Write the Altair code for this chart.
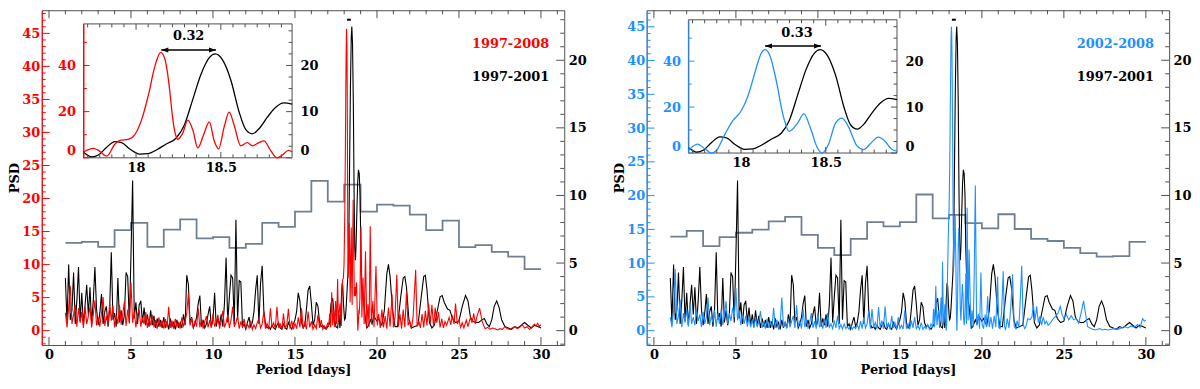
import altair as alt
import pandas as pd

FONT = "DejaVu Serif"
RED = "#ff0000"
BLUE = "#1e90ff"
HIST_COLOR = "#708090"
FRAME = "#505050"

# ---------------- data ----------------
GRID_START = 1.0
GRID_STEP = 0.1

# 1997-2001 periodogram (right-axis units), periods 1.0 .. 17.0
BLACK_GRID = [
    3.9, 0.6, 4.9, 0.8, 1.5, 4.3, 0.5, 2.2, 4.7, 0.7,
    2.8, 0.4, 1.9, 3.4, 1.2, 3.2, 0.5, 2.2, 4.7, 1.6,
    0.4, 1.3, 2.7, 0.5, 1.4, 1.8, 0.3, 1.6, 5.8, 0.8,
    1.3, 0.3, 3.9, 0.6, 1.5, 0.4, 1.2, 4.3, 4.0, 0.6,
    5.6, 11.1, 0.9, 2.1, 0.5, 1.9, 2.2, 0.6, 1.7, 0.4,
    1.2, 0.3, 1.5, 0.4, 1.1, 0.2, 0.9, 0.3, 0.8, 0.2,
    1.0, 0.2, 0.7, 0.1, 0.9, 0.3, 0.6, 0.1, 0.8, 0.2,
    0.6, 0.2, 1.2, 0.4, 4.1, 3.4, 0.6, 1.0, 0.2, 0.5,
    1.0, 2.0, 2.6, 0.3, 0.8, 0.2, 0.5, 1.2, 1.8, 0.3,
    0.8, 2.8, 0.3, 0.9, 0.4, 1.2, 0.3, 2.0, 5.4, 0.6,
    2.5, 4.1, 3.9, 0.5, 8.2, 0.8, 3.7, 3.6, 0.3, 0.5,
    0.1, 0.6, 1.0, 0.3, 0.6, 1.4, 3.0, 4.1, 0.5, 3.5,
    4.8, 1.5, 0.5, 0.2, 0.3, 0.1, 0.4, 0.2, 0.1, 0.4,
    0.6, 0.2, 0.1, 0.5, 0.2, 0.1, 0.6, 0.3, 0.1, 0.5,
    0.8, 1.4, 2.8, 2.2, 0.6, 0.2, 0.4, 1.6, 3.0, 3.3,
    2.0, 0.4, 0.8, 2.1, 1.8, 0.6, 0.3, 0.4, 0.2, 0.1,
    0.3,
]
BLACK_MID_X = [17.1, 17.2, 17.3, 17.4, 17.5, 17.6]
BLACK_MID_Y = [0.5, 2.0, 2.4, 1.0, 0.3, 0.2]
BLACK_INSET_X = [17.69, 17.739, 17.778, 17.827, 17.875, 17.915, 17.963, 18.022, 18.071,
                 18.12, 18.178, 18.237, 18.285, 18.334, 18.383, 18.432, 18.467, 18.51,
                 18.559, 18.608, 18.647, 18.686, 18.725, 18.774, 18.822, 18.871, 18.92]
BLACK_INSET_Y = [1.2, 0.2, 0.6, 2.3, 3.5, 3.3, 1.9, 0.8, 0.9,
                 1.7, 3.0, 4.3, 7.1, 12.6, 18.1, 21.7, 22.5, 21.2,
                 16.8, 9.9, 6.1, 5.2, 6.3, 8.8, 10.9, 11.9, 11.6]
BLACK_TAIL_X = [18.97, 19.02, 19.08, 19.15, 19.22, 19.3, 19.38, 19.45,
                19.6, 19.7, 19.8, 19.9, 20.0, 20.1, 20.2, 20.3,
                20.45, 20.6, 20.7, 20.8, 20.95, 21.1, 21.25,
                21.45, 21.6, 21.7, 21.8, 21.95, 22.1, 22.3, 22.5,
                22.7, 22.85, 22.95, 23.05, 23.2, 23.35, 23.5,
                23.7, 23.85, 23.98, 24.1, 24.3, 24.45, 24.6, 24.8,
                25.0, 25.2, 25.4, 25.55, 25.7, 25.85, 26.0,
                26.2, 26.4, 26.55, 26.7, 26.85, 27.0,
                27.15, 27.3, 27.45, 27.6, 27.8, 28.0,
                28.2, 28.4, 28.6, 28.8, 29.0, 29.2, 29.4, 29.6, 29.8, 30.0]
BLACK_TAIL_Y = [10.0, 6.0, 3.5, 2.4, 1.8, 0.8, 0.2, 0.3,
                0.8, 0.5, 1.1, 0.9, 0.7, 0.9, 0.6, 0.4,
                1.5, 4.2, 4.9, 4.0, 1.5, 0.3, 0.3,
                2.5, 3.9, 4.0, 3.2, 0.8, 0.2, 0.3, 0.4,
                2.5, 4.0, 4.1, 3.0, 0.6, 0.2, 0.4,
                1.6, 2.5, 2.6, 2.1, 1.6, 1.5, 0.9, 0.6,
                0.7, 1.8, 2.6, 2.2, 1.0, 0.7, 0.6,
                0.6, 0.8, 0.9, 0.5, 0.3, 0.8,
                1.8, 2.2, 1.7, 0.8, 0.3, 0.2,
                0.1, 0.3, 0.2, 0.4, 0.6, 0.4, 0.2, 0.4, 0.3, 0.2]

# 1997-2008 periodogram (left-axis units)
RED_GRID = [
    2.7, 0.5, 3.5, 6.8, 1.0, 2.5, 3.9, 0.6, 3.4, 1.2,
    2.8, 0.4, 3.6, 1.0, 2.2, 3.6, 0.5, 2.4, 4.6, 0.8,
    2.0, 0.6, 2.6, 5.1, 0.7, 2.2, 1.0, 4.1, 1.5, 3.8,
    0.5, 2.3, 1.0, 3.9, 0.9, 2.6, 4.4, 0.7, 3.2, 1.1,
    7.3, 1.2, 2.9, 0.5, 2.4, 3.2, 0.6, 2.0, 1.0, 2.8,
    0.4, 1.9, 0.8, 2.4, 0.5, 1.6, 0.3, 2.0, 0.6, 1.5,
    0.3, 1.8, 0.5, 3.6, 0.4, 1.5, 0.3, 1.8, 0.6, 1.2,
    0.3, 2.0, 0.7, 1.4, 2.6, 5.6, 0.8, 1.9, 0.4, 1.5,
    0.6, 3.4, 0.5, 1.8, 0.3, 1.4, 2.2, 0.5, 1.6, 0.4,
    2.5, 0.6, 1.3, 2.4, 0.3, 1.5, 3.0, 0.5, 1.2, 2.4,
    0.4, 1.6, 3.6, 0.6, 1.2, 2.2, 0.3, 1.4, 0.5, 1.8,
    0.3, 1.0, 0.4, 1.5, 0.2, 0.9, 0.3, 1.2, 1.8, 0.4,
    1.0, 2.9, 0.3, 1.1, 0.2, 3.4, 0.5, 1.2, 0.3, 3.6,
    0.4, 1.0, 0.2, 2.6, 0.4, 0.8, 3.3, 0.3, 1.5, 0.2,
    1.1, 0.3, 2.0, 0.5, 3.4, 0.3, 1.2, 0.2, 2.9, 0.5,
    1.4, 0.2, 0.9, 0.3, 2.4, 0.4, 1.6, 0.2, 0.7, 0.3,
    1.2,
]
RED_MID_X = [17.05, 17.12, 17.18, 17.24, 17.3, 17.36, 17.42, 17.48, 17.54, 17.6, 17.65]
RED_MID_Y = [0.6, 2.5, 0.5, 5.8, 0.8, 3.0, 0.5, 4.5, 1.0, 7.8, 1.5]
RED_INSET_X = [17.69, 17.749, 17.778, 17.827, 17.875, 17.905, 17.954, 17.993, 18.041,
               18.06, 18.08, 18.1, 18.12, 18.145, 18.168, 18.185, 18.198, 18.21, 18.223,
               18.235, 18.246, 18.276, 18.305, 18.334, 18.364, 18.399, 18.432, 18.461,
               18.487, 18.52, 18.549, 18.578, 18.617, 18.656, 18.686, 18.725, 18.754,
               18.793, 18.832, 18.861, 18.9, 18.92]
RED_INSET_Y = [2.5, 4.1, 3.2, 0.7, 5.9, 7.6, 8.0, 10.1, 18.4,
               23.5, 29.4, 36.5, 41.9, 45.7, 43.2, 37.0, 29.4, 21.0, 13.5,
               9.5, 8.0, 10.8, 16.3, 12.2, 4.3, 10.1, 15.6, 7.3,
               3.9, 13.5, 19.8, 14.2, 5.2, 6.6, 5.2, 6.6, 7.3,
               3.2, 0.0, 1.1, 3.2, 2.5]
RED_TAIL_X = [18.96, 19.02, 19.08, 19.15, 19.22, 19.3, 19.38, 19.45, 19.52, 19.59,
              19.66, 19.75, 19.82, 19.94, 20.02, 20.1, 20.2, 20.3, 20.4, 20.5,
              20.6, 20.7, 20.8, 20.92, 21.0, 21.1, 21.21, 21.3, 21.4, 21.5,
              21.6, 21.7, 21.8, 21.9, 22.0, 22.1, 22.2, 22.36, 22.45, 22.55,
              22.65, 22.75, 22.85, 22.95, 23.05, 23.15, 23.25, 23.35, 23.45, 23.55,
              23.65, 23.75, 23.85, 23.95, 24.05, 24.15, 24.25, 24.4, 24.5, 24.6,
              24.7, 24.79, 24.9, 25.0, 25.1, 25.2, 25.3, 25.45, 25.55, 25.7,
              25.8, 25.9, 26.0, 26.1, 26.26, 26.4, 26.5, 26.6, 26.75, 26.9,
              27.05, 27.2, 27.35, 27.5, 27.65, 27.8, 27.95, 28.1, 28.25, 28.4,
              28.55, 28.7, 28.85, 29.0, 29.15, 29.3, 29.45, 29.6, 29.7, 29.8,
              29.9, 30.0]
RED_TAIL_Y = [5.0, 15.7, 2.0, 8.0, 1.0, 12.0, 0.5, 4.0, 0.6, 15.8,
              1.0, 4.5, 0.5, 9.8, 0.8, 2.5, 0.4, 3.2, 0.5, 2.2,
              0.3, 3.5, 0.6, 5.5, 0.5, 2.0, 8.5, 0.6, 2.5, 0.3,
              3.2, 0.5, 5.8, 0.8, 1.5, 0.3, 2.0, 9.2, 0.6, 1.5,
              0.4, 2.5, 0.5, 3.0, 0.8, 4.1, 1.0, 3.9, 0.6, 3.5,
              1.2, 2.8, 0.5, 1.8, 0.4, 1.4, 0.8, 2.0, 0.9, 2.3,
              1.0, 4.1, 1.0, 1.6, 0.5, 1.2, 0.4, 1.6, 0.6, 2.0,
              1.2, 2.6, 1.0, 2.2, 3.4, 1.5, 0.8, 0.3, 0.5, 0.2,
              0.4, 0.3, 0.1, 0.3, 0.2, 0.6, 0.3, 0.2, 0.4, 0.6,
              0.3, 0.5, 0.9, 0.4, 0.6, 0.2, 0.5, 1.0, 0.7, 1.1,
              0.6, 0.9]

# 2002-2008 periodogram (left-axis units)
BLUE_GRID = [
    2.0, 0.5, 3.0, 9.1, 1.0, 2.2, 4.6, 0.5, 2.6, 1.2,
    3.2, 0.6, 4.1, 1.0, 2.0, 0.8, 3.0, 1.4, 2.4, 0.5,
    2.8, 1.0, 2.0, 4.9, 0.8, 2.2, 1.2, 3.0, 0.6, 2.5,
    1.0, 3.2, 0.8, 2.2, 4.4, 1.0, 2.6, 1.4, 3.4, 2.0,
    6.3, 1.5, 3.0, 0.8, 2.4, 1.0, 2.2, 0.6, 2.0, 0.5,
    1.6, 0.4, 2.0, 0.5, 1.4, 2.9, 0.4, 1.2, 0.3, 1.8,
    0.4, 1.3, 0.5, 3.4, 0.4, 1.6, 0.3, 1.0, 4.9, 0.5,
    1.2, 0.3, 1.8, 0.5, 1.4, 2.2, 0.4, 3.8, 0.6, 1.5,
    0.3, 3.2, 0.5, 1.6, 0.3, 1.2, 2.6, 0.4, 1.4, 0.3,
    2.6, 0.5, 1.2, 0.3, 1.8, 0.4, 2.6, 0.5, 1.0, 0.3,
    1.5, 0.4, 2.2, 0.3, 0.9, 0.2, 1.0, 0.3, 0.6, 0.2,
    0.8, 0.2, 0.6, 0.3, 0.9, 0.2, 1.4, 0.3, 2.0, 0.4,
    1.0, 2.9, 0.3, 3.2, 0.5, 1.2, 0.3, 3.5, 0.4, 1.5,
    0.3, 3.6, 0.5, 1.0, 0.2, 2.2, 0.4, 1.2, 0.2, 2.0,
    0.3, 0.8, 0.2, 3.0, 0.3, 1.0, 0.2, 1.5, 0.4, 2.0,
    0.3, 0.7, 0.2, 1.2, 0.2, 0.6, 0.3, 0.9, 0.2, 1.0,
    0.4,
]
BLUE_MID_X = [17.05, 17.12, 17.19, 17.26, 17.35, 17.42, 17.51, 17.56, 17.6, 17.65]
BLUE_MID_Y = [3.2, 0.5, 6.6, 0.8, 3.0, 0.4, 4.9, 1.0, 10.2, 1.5]
BLUE_INSET_X = [17.69, 17.744, 17.787, 17.826, 17.855, 17.904, 17.953, 18.001, 18.04,
                18.079, 18.1, 18.118, 18.142, 18.16, 18.177, 18.196, 18.216, 18.235, 18.254,
                18.284, 18.332, 18.371, 18.41, 18.449, 18.478, 18.517, 18.556, 18.595,
                18.634, 18.683, 18.722, 18.77, 18.809, 18.848, 18.887, 18.92]
BLUE_INSET_Y = [1.1, 3.9, 1.8, 0.0, 1.1, 8.0, 14.2, 18.3, 24.6,
                34.2, 39.5, 43.2, 45.0, 44.0, 41.1, 35.5, 28.7, 21.0, 14.9,
                9.4, 12.8, 17.0, 10.8, 2.5, 0.0, 3.9, 12.8, 15.2,
                11.4, 3.2, 1.5, 4.6, 6.9, 5.2, 1.8, 0.8]
BLUE_TAIL_X = [18.96, 19.02, 19.06, 19.1, 19.16, 19.22, 19.27, 19.33, 19.4, 19.47,
               19.53, 19.6, 19.68, 19.78, 19.86, 19.94, 20.02, 20.1, 20.2, 20.27,
               20.35, 20.45, 20.55, 20.65, 20.75, 20.85, 20.96, 21.03, 21.1, 21.2,
               21.3, 21.38, 21.45, 21.55, 21.65, 21.75, 21.87, 21.97, 22.07, 22.15,
               22.25, 22.32, 22.43, 22.52, 22.6, 22.67, 22.8, 22.93, 23.05, 23.14,
               23.24, 23.34, 23.44, 23.54, 23.64, 23.74, 23.84, 23.94, 24.04, 24.2,
               24.35, 24.5, 24.65, 24.78, 24.9, 25.0, 25.15, 25.3, 25.45, 25.6,
               25.75, 25.9, 26.05, 26.2, 26.32, 26.45, 26.6, 26.75, 26.9, 27.05,
               27.2, 27.35, 27.5, 27.7, 27.9, 28.1, 28.3, 28.5, 28.7, 28.9,
               29.1, 29.3, 29.5, 29.65, 29.8, 29.9, 30.0]
BLUE_TAIL_Y = [2.0, 8.5, 1.0, 18.2, 1.5, 12.0, 6.6, 0.3, 3.0, 0.5,
               8.0, 21.5, 0.8, 2.5, 0.3, 8.6, 0.8, 0.3, 2.4, 0.5,
               5.1, 0.5, 2.0, 0.3, 2.2, 0.5, 8.0, 0.5, 0.3, 2.6,
               8.8, 0.6, 0.2, 1.8, 0.4, 3.0, 8.3, 0.6, 0.3, 1.5,
               0.4, 3.5, 9.6, 1.0, 0.3, 0.5, 1.8, 1.6, 2.0, 3.9,
               1.5, 3.6, 1.2, 2.1, 0.8, 2.0, 1.0, 1.4, 0.8, 1.2,
               1.8, 2.1, 2.6, 3.6, 2.3, 1.8, 2.4, 1.6, 2.2, 1.6,
               1.8, 1.1, 2.6, 4.4, 2.5, 0.6, 0.4, 0.2, 0.1, 0.2,
               0.3, 0.1, 0.2, 0.1, 0.2, 0.3, 0.2, 0.4, 0.6, 0.4,
               0.7, 0.5, 0.9, 0.5, 1.8, 1.4, 1.6]

# histograms (right-axis units), one-day bins from 1 to 30
HIST_EDGES = list(range(1, 31))
HIST_A = [6.49, 6.56, 6.2, 7.43, 7.97, 6.2, 7.48, 8.23, 6.82, 6.91, 6.13, 6.42, 7.97, 7.67,
          8.8, 11.08, 9.55, 10.8, 8.8, 9.32, 9.25, 8.58, 7.43, 8.14, 6.18, 6.32, 5.83, 5.47, 4.55]
HIST_B = [6.96, 7.38, 6.25, 6.91, 7.24, 7.48, 8.09, 8.42, 7.08, 6.13, 5.59, 6.79, 8.02, 7.71,
          8.02, 10.07, 8.3, 8.56, 7.95, 7.57, 8.61, 7.52, 6.79, 6.63, 6.13, 5.73, 5.47, 5.52, 6.56]

X_TICKS = [0, 5, 10, 15, 20, 25, 30]
LEFT_TICKS = [0, 5, 10, 15, 20, 25, 30, 35, 40, 45]
RIGHT_TICKS = [0, 5, 10, 15, 20]
INSET_X_TICKS = [18, 18.5]
INSET_L_TICKS = [0, 20, 40]
INSET_R_TICKS = [0, 10, 20]

# ---------------- layout ----------------
W, H = 526, 337
X_DOM = [-0.44, 31.42]
LEFT_DOM_A = [-2.17, 48.5]
LEFT_DOM_B = [-2.12, 47.45]
RIGHT_DOM = [-1.06, 23.7]
INSET_XDOM = [17.69, 18.92]
INSET_LDOM = [0, 58]
INSET_RDOM = [0, 29]
INSET_XRANGE = [42, 252]
INSET_YRANGE_A = [154.3 * H / 350, 14.3 * H / 350]
INSET_YRANGE_B = [149.3 * H / 350, 10.0 * H / 350]


def sc(dom, rng=None):
    if rng is None:
        return alt.Scale(domain=dom, nice=False, zero=False)
    return alt.Scale(domain=dom, range=rng, nice=False, zero=False)


def build(grid, mx, my, ix, iy, tx, ty):
    gx = [round(GRID_START + GRID_STEP * i, 2) for i in range(len(grid))]
    return pd.DataFrame({"period": gx + mx + ix + tx, "psd": grid + my + iy + ty})


def line(df, xs, ys, color, width, xaxis=None, yaxis=None, interp="linear"):
    return alt.Chart(df).mark_line(color=color, strokeWidth=width, interpolate=interp).encode(
        x=alt.X("period:Q", scale=xs, axis=xaxis),
        y=alt.Y("psd:Q", scale=ys, axis=yaxis),
    )


def yticks(values, xa, xb, xs, ys, color):
    df = pd.DataFrame({"y": values, "xa": [xa] * len(values), "xb": [xb] * len(values)})
    return alt.Chart(df).mark_rule(color=color, strokeWidth=1).encode(
        x=alt.X("xa:Q", scale=xs, axis=None), x2="xb:Q",
        y=alt.Y("y:Q", scale=ys, axis=None))


def xticks(values, ya, yb, xs, ys, color):
    df = pd.DataFrame({"x": values, "ya": [ya] * len(values), "yb": [yb] * len(values)})
    return alt.Chart(df).mark_rule(color=color, strokeWidth=1).encode(
        x=alt.X("x:Q", scale=xs, axis=None),
        y=alt.Y("ya:Q", scale=ys, axis=None), y2="yb:Q")


def text_layer(x, y, t, xs, ys, color, align):
    df = pd.DataFrame({"x": [x], "y": [y], "t": [t]})
    return alt.Chart(df).mark_text(font=FONT, fontSize=13, fontWeight="bold", color=color,
                                   align=align, baseline="middle").encode(
        x=alt.X("x:Q", scale=xs, axis=None), y=alt.Y("y:Q", scale=ys, axis=None), text="t:N")


def panel(color, grid, mx, my, ix, iy, tx, ty, hist, left_dom, iyrange, label,
          arrow_x, arrow_y, dx, dy, dtext):
    xs = sc(X_DOM)
    yl = sc(left_dom)
    yr = sc(RIGHT_DOM)
    ixs = sc(INSET_XDOM, INSET_XRANGE)
    iyl = sc(INSET_LDOM, iyrange)
    iyr = sc(INSET_RDOM, iyrange)

    x_axis = alt.Axis(values=X_TICKS, format="d", title="Period [days]", domain=False,
                      ticks=False, grid=False, labelPadding=4, titlePadding=2,
                      labelFlush=False, labelColor="black", titleColor="black")
    l_axis = alt.Axis(orient="left", values=LEFT_TICKS, format="d", title="PSD", domain=True,
                      domainColor=color, ticks=False, grid=False, labelColor=color,
                      labelPadding=2, titlePadding=0, labelFlush=False, titleColor="black")
    r_axis = alt.Axis(orient="right", values=RIGHT_TICKS, format="d", title=None, domain=False,
                      ticks=False, grid=False, labelColor="black", labelPadding=4,
                      labelFlush=False)
    ix_axis = alt.Axis(orient="bottom", values=INSET_X_TICKS, format="~g", title=None,
                       domain=False, ticks=False, grid=False, labelPadding=4,
                       offset=iyrange[0] - H, labelColor="black", labelFlush=False, zindex=1)
    il_axis = alt.Axis(orient="left", values=INSET_L_TICKS, format="d", title=None,
                       domain=True, domainColor=color, ticks=False, grid=False,
                       labelPadding=8, offset=-INSET_XRANGE[0], labelColor=color,
                       labelFlush=True, zindex=1)
    ir_axis = alt.Axis(orient="right", values=INSET_R_TICKS, format="d", title=None,
                       domain=False, ticks=False, grid=False, labelPadding=8,
                       offset=INSET_XRANGE[1] - W, labelColor="black", labelFlush=True,
                       zindex=1)

    layers = []
    hdf = pd.DataFrame({"period": HIST_EDGES, "psd": hist + [hist[-1]]})
    layers.append(line(hdf, xs, yr, HIST_COLOR, 1.8, interp="step-after"))
    bdf = build(BLACK_GRID, BLACK_MID_X, BLACK_MID_Y, BLACK_INSET_X, BLACK_INSET_Y,
                BLACK_TAIL_X, BLACK_TAIL_Y)
    layers.append(line(bdf, xs, yr, "black", 1.1, yaxis=r_axis))
    cdf = build(grid, mx, my, ix, iy, tx, ty)
    layers.append(line(cdf, xs, yl, color, 1.1, xaxis=x_axis, yaxis=l_axis))

    # main frame ticks (inward), only those inside the frame
    ux = (X_DOM[1] - X_DOM[0]) / W
    uyl = (left_dom[1] - left_dom[0]) / H
    lmin = [v for v in range(-2, 49) if v % 5 != 0 and left_dom[0] < v < left_dom[1]]
    layers.append(yticks(LEFT_TICKS, X_DOM[0], X_DOM[0] + 8 * ux, xs, yl, color))
    layers.append(yticks(lmin, X_DOM[0], X_DOM[0] + 4 * ux, xs, yl, color))
    rmin = [v for v in range(-1, 24) if v % 5 != 0 and RIGHT_DOM[0] < v < RIGHT_DOM[1]]
    layers.append(yticks(RIGHT_TICKS, X_DOM[1] - 8 * ux, X_DOM[1], xs, yr, FRAME))
    layers.append(yticks(rmin, X_DOM[1] - 4 * ux, X_DOM[1], xs, yr, FRAME))
    xmin = [v for v in range(0, 32) if v % 5 != 0]
    layers.append(xticks(X_TICKS, left_dom[0], left_dom[0] + 8 * uyl, xs, yl, FRAME))
    layers.append(xticks(xmin, left_dom[0], left_dom[0] + 4 * uyl, xs, yl, FRAME))
    layers.append(xticks(X_TICKS, left_dom[1] - 8 * uyl, left_dom[1], xs, yl, FRAME))
    layers.append(xticks(xmin, left_dom[1] - 4 * uyl, left_dom[1], xs, yl, FRAME))

    # legend texts and peak marker
    layers.append(text_layer(30.5, 21.2, label, xs, yr, color, "right"))
    layers.append(text_layer(30.5, 18.75, "1997-2001", xs, yr, "black", "right"))
    mdf = pd.DataFrame({"xa": [18.17], "xb": [18.41], "y": [23.0]})
    layers.append(alt.Chart(mdf).mark_rule(color="black", strokeWidth=2).encode(
        x=alt.X("xa:Q", scale=xs, axis=None), x2="xb:Q", y=alt.Y("y:Q", scale=yr, axis=None)))

    # inset frame
    fdf = pd.DataFrame({"xa": [INSET_XDOM[0]], "xb": [INSET_XDOM[1]],
                        "ya": [INSET_LDOM[0]], "yb": [INSET_LDOM[1]]})
    layers.append(alt.Chart(fdf).mark_rect(fillOpacity=0, stroke=FRAME, strokeWidth=1).encode(
        x=alt.X("xa:Q", scale=ixs, axis=None), x2="xb:Q",
        y=alt.Y("ya:Q", scale=iyl, axis=None), y2="yb:Q"))
    # inset curves
    ib = pd.DataFrame({"period": BLACK_INSET_X, "psd": BLACK_INSET_Y})
    layers.append(line(ib, ixs, iyr, "black", 1.3, yaxis=ir_axis, interp="monotone"))
    ic = pd.DataFrame({"period": ix, "psd": iy})
    layers.append(line(ic, ixs, iyl, color, 1.3, xaxis=ix_axis, yaxis=il_axis, interp="monotone"))

    # inset ticks
    uix = (INSET_XDOM[1] - INSET_XDOM[0]) / (INSET_XRANGE[1] - INSET_XRANGE[0])
    ipx = iyrange[0] - iyrange[1]
    uil = (INSET_LDOM[1] - INSET_LDOM[0]) / ipx
    ixmin = [round(18 + k * 0.5 / 7, 4) for k in range(-4, 13) if k % 7 != 0]
    layers.append(xticks(INSET_X_TICKS, 0, 6 * uil, ixs, iyl, FRAME))
    layers.append(xticks(ixmin, 0, 3.5 * uil, ixs, iyl, FRAME))
    layers.append(xticks(INSET_X_TICKS, 58 - 6 * uil, 58, ixs, iyl, FRAME))
    layers.append(xticks(ixmin, 58 - 3.5 * uil, 58, ixs, iyl, FRAME))
    layers.append(yticks(INSET_L_TICKS, INSET_XDOM[0], INSET_XDOM[0] + 6 * uix, ixs, iyl, color))
    layers.append(yticks([10, 30, 50], INSET_XDOM[0], INSET_XDOM[0] + 3.5 * uix, ixs, iyl, color))
    irmin = [2.5, 5, 7.5, 12.5, 15, 17.5, 22.5, 25, 27.5]
    layers.append(yticks(INSET_R_TICKS, INSET_XDOM[1] - 6 * uix, INSET_XDOM[1], ixs, iyr, FRAME))
    layers.append(yticks(irmin, INSET_XDOM[1] - 3.5 * uix, INSET_XDOM[1], ixs, iyr, FRAME))

    # double arrow and label
    adf = pd.DataFrame({"xa": [arrow_x[0]], "xb": [arrow_x[1]], "y": [arrow_y]})
    layers.append(alt.Chart(adf).mark_rule(color="black", strokeWidth=1.3).encode(
        x=alt.X("xa:Q", scale=ixs, axis=None), x2="xb:Q", y=alt.Y("y:Q", scale=iyl, axis=None)))
    hl = pd.DataFrame({"x": [arrow_x[0]], "y": [arrow_y]})
    hr = pd.DataFrame({"x": [arrow_x[1]], "y": [arrow_y]})
    layers.append(alt.Chart(hl).mark_point(shape="M0,0L2,-0.75L2,0.75Z", filled=True, size=49,
                                           color="black", opacity=1).encode(
        x=alt.X("x:Q", scale=ixs, axis=None), y=alt.Y("y:Q", scale=iyl, axis=None)))
    layers.append(alt.Chart(hr).mark_point(shape="M0,0L-2,-0.75L-2,0.75Z", filled=True, size=49,
                                           color="black", opacity=1).encode(
        x=alt.X("x:Q", scale=ixs, axis=None), y=alt.Y("y:Q", scale=iyl, axis=None)))
    layers.append(text_layer(dx, dy, dtext, ixs, iyl, "black", "center"))

    return alt.layer(*layers).resolve_scale(x="independent", y="independent").properties(
        width=W, height=H)


panel_a = panel(RED, RED_GRID, RED_MID_X, RED_MID_Y, RED_INSET_X, RED_INSET_Y,
                RED_TAIL_X, RED_TAIL_Y, HIST_A, LEFT_DOM_A, INSET_YRANGE_A, "1997-2008",
                [18.149, 18.471], 46.7, 18.31, 52.9, "0.32")
panel_b = panel(BLUE, BLUE_GRID, BLUE_MID_X, BLUE_MID_Y, BLUE_INSET_X, BLUE_INSET_Y,
                BLUE_TAIL_X, BLUE_TAIL_Y, HIST_B, LEFT_DOM_B, INSET_YRANGE_B, "2002-2008",
                [18.142, 18.472], 46.6, 18.33, 52.4, "0.33")

chart = alt.hconcat(panel_a, panel_b, spacing=83, bounds="flush").properties(
    padding={"left": 0, "right": 0, "top": 0, "bottom": 0}, background="white"
).configure_view(stroke=FRAME, strokeWidth=1).configure_axis(
    labelFont=FONT, titleFont=FONT, labelFontSize=13, titleFontSize=13,
    labelFontWeight="bold", titleFontWeight="bold"
)

chart.save("out.html", embed_options={"renderer": "svg", "actions": False})
